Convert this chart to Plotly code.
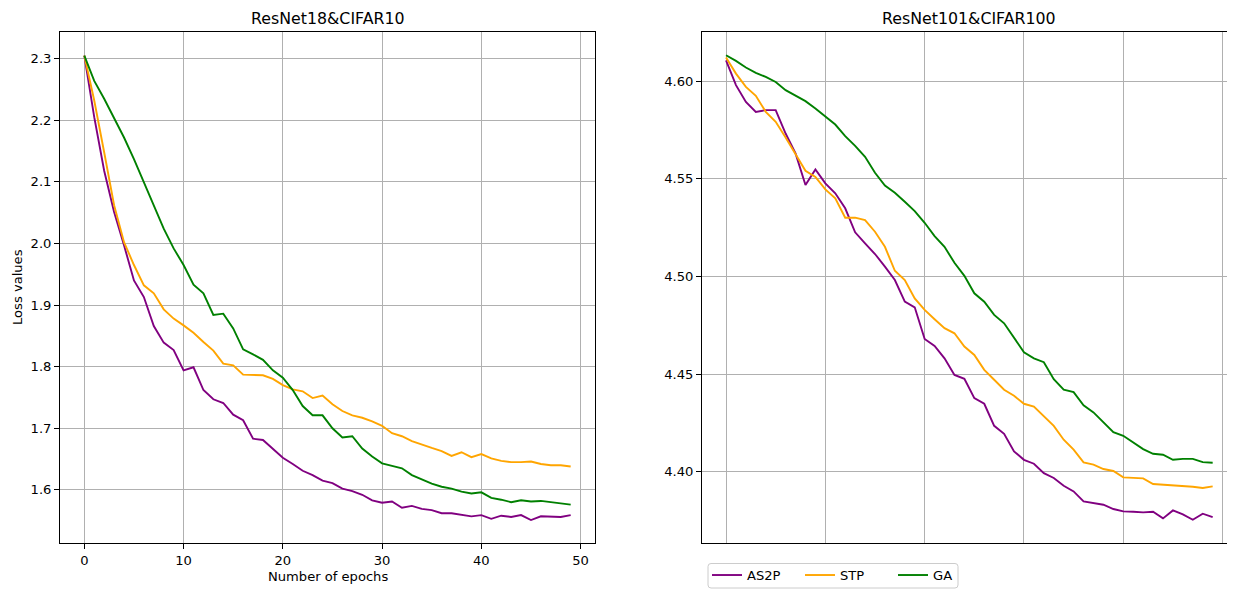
import plotly.graph_objects as go

epochs = list(range(50))

left_as2p = [2.305, 2.205, 2.118, 2.051, 1.997, 1.940, 1.913, 1.866, 1.839, 1.827,
             1.794, 1.799, 1.762, 1.747, 1.741, 1.722, 1.713, 1.683, 1.681, 1.666,
             1.652, 1.642, 1.631, 1.624, 1.615, 1.611, 1.602, 1.598, 1.592, 1.583,
             1.579, 1.581, 1.571, 1.574, 1.569, 1.567, 1.562, 1.562, 1.559, 1.557,
             1.559, 1.553, 1.558, 1.556, 1.559, 1.551, 1.557, 1.557, 1.556, 1.559]
left_stp = [2.305, 2.232, 2.148, 2.062, 2.002, 1.965, 1.932, 1.919, 1.893, 1.878,
            1.867, 1.855, 1.840, 1.826, 1.805, 1.802, 1.787, 1.786, 1.786, 1.780,
            1.770, 1.763, 1.760, 1.749, 1.753, 1.739, 1.728, 1.721, 1.717, 1.711,
            1.704, 1.692, 1.687, 1.679, 1.673, 1.668, 1.663, 1.655, 1.661, 1.653,
            1.658, 1.651, 1.647, 1.645, 1.645, 1.646, 1.642, 1.640, 1.640, 1.638]
left_ga = [2.305, 2.264, 2.235, 2.204, 2.172, 2.137, 2.100, 2.062, 2.024, 1.992,
           1.965, 1.933, 1.919, 1.884, 1.886, 1.862, 1.828, 1.820, 1.811, 1.794,
           1.782, 1.762, 1.736, 1.721, 1.721, 1.700, 1.685, 1.687, 1.667, 1.654,
           1.643, 1.639, 1.635, 1.624, 1.617, 1.610, 1.605, 1.602, 1.597, 1.594,
           1.596, 1.587, 1.584, 1.580, 1.583, 1.581, 1.582, 1.580, 1.578, 1.576]

right_as2p = [4.6107, 4.5980, 4.5894, 4.5843, 4.5852, 4.5852, 4.5732, 4.5630, 4.5468, 4.5548,
              4.5477, 4.5426, 4.5349, 4.5226, 4.5170, 4.5115, 4.5050, 4.4982, 4.4871, 4.4842,
              4.4680, 4.4644, 4.4581, 4.4496, 4.4476, 4.4377, 4.4348, 4.4235, 4.4194, 4.4104,
              4.4061, 4.4041, 4.3993, 4.3968, 4.3928, 4.3899, 4.3848, 4.3841, 4.3831, 4.3809,
              4.3797, 4.3795, 4.3792, 4.3795, 4.3761, 4.3802, 4.3782, 4.3754, 4.3785, 4.3768]
right_stp = [4.6121, 4.6039, 4.5971, 4.5925, 4.5843, 4.5792, 4.5712, 4.5630, 4.5541, 4.5510,
             4.5446, 4.5400, 4.5301, 4.5301, 4.5289, 4.5229, 4.5152, 4.5029, 4.4982, 4.4888,
             4.4829, 4.4781, 4.4735, 4.4709, 4.4641, 4.4598, 4.4522, 4.4471, 4.4420, 4.4389,
             4.4348, 4.4334, 4.4283, 4.4235, 4.4164, 4.4113, 4.4048, 4.4036, 4.4014, 4.4004,
             4.3971, 4.3968, 4.3966, 4.3937, 4.3934, 4.3930, 4.3927, 4.3923, 4.3917, 4.3925]
right_ga = [4.6133, 4.6104, 4.6070, 4.6043, 4.6022, 4.5996, 4.5954, 4.5925, 4.5898, 4.5860,
            4.5817, 4.5778, 4.5719, 4.5669, 4.5613, 4.5531, 4.5466, 4.5429, 4.5383, 4.5335,
            4.5275, 4.5207, 4.5152, 4.5070, 4.5003, 4.4914, 4.4871, 4.4803, 4.4760, 4.4684,
            4.4612, 4.4581, 4.4561, 4.4474, 4.4420, 4.4408, 4.4340, 4.4304, 4.4254, 4.4203,
            4.4184, 4.4148, 4.4116, 4.4092, 4.4087, 4.4061, 4.4066, 4.4066, 4.4049, 4.4046]

series_names = ["AS2P", "STP", "GA"]
series_colors = ["#800080", "#FFA500", "#008000"]

left_ticks = [1.6, 1.7, 1.8, 1.9, 2.0, 2.1, 2.2, 2.3]
right_ticks = [4.40, 4.45, 4.50, 4.55, 4.60]
x_ticks = [0, 10, 20, 30, 40, 50]

# the page body adds an 8px margin, so window coordinates are offset by OFF
OFF = 8
W, H = 1229, 589
FONT = "DejaVu Sans"

fig = go.Figure()
for name, col, yl, yr in zip(series_names, series_colors,
                             [left_as2p, left_stp, left_ga],
                             [right_as2p, right_stp, right_ga]):
    fig.add_trace(go.Scatter(x=epochs, y=yl, mode="lines", name=name,
                             line=dict(color=col, width=1.9), xaxis="x", yaxis="y",
                             showlegend=False))
    fig.add_trace(go.Scatter(x=epochs, y=yr, mode="lines", name=name,
                             line=dict(color=col, width=1.9), xaxis="x2", yaxis="y2",
                             showlegend=True))


def px_x(p):
    return (p - OFF) / W


def px_y(p):
    return 1 - (p - OFF) / H


top, bottom = 32, 543
grid = dict(showgrid=True, gridcolor="#b0b0b0", gridwidth=1, zeroline=False)
tickfont = dict(family=FONT, size=13.1, color="black")

# rounded legend frame (window pixel coordinates -> paper)
lx0, lx1, ly0, ly1, r = 708, 958, 563.5, 588, 3
fx = lambda p: px_x(p)
fy = lambda p: px_y(p)
frame_path = (
    f"M {fx(lx0 + r)} {fy(ly0)} L {fx(lx1 - r)} {fy(ly0)} "
    f"Q {fx(lx1)} {fy(ly0)} {fx(lx1)} {fy(ly0 + r)} "
    f"L {fx(lx1)} {fy(ly1 - r)} Q {fx(lx1)} {fy(ly1)} {fx(lx1 - r)} {fy(ly1)} "
    f"L {fx(lx0 + r)} {fy(ly1)} Q {fx(lx0)} {fy(ly1)} {fx(lx0)} {fy(ly1 - r)} "
    f"L {fx(lx0)} {fy(ly0 + r)} Q {fx(lx0)} {fy(ly0)} {fx(lx0 + r)} {fy(ly0)} Z"
)

fig.update_layout(
    width=W, height=H,
    margin=dict(l=0, r=0, t=0, b=0),
    paper_bgcolor="white", plot_bgcolor="white",
    font=dict(family=FONT, size=13.1, color="black"),
    xaxis=dict(domain=[px_x(60), px_x(595)], range=[-2.45, 51.45], anchor="y",
               tickvals=x_ticks, ticks="outside", ticklen=5, tickcolor="black",
               showline=True, linecolor="black", linewidth=1, mirror=True,
               tickfont=tickfont, **grid),
    yaxis=dict(domain=[px_y(bottom), px_y(top)], range=[1.5137, 2.3433], anchor="x",
               tickvals=left_ticks, ticktext=[f"{v:.1f}" for v in left_ticks],
               ticks="outside", ticklen=5, tickcolor="black",
               showline=True, linecolor="black", linewidth=1, mirror=True,
               tickfont=tickfont, **grid),
    xaxis2=dict(domain=[px_x(702), 1.0], range=[-2.42, 51.45], anchor="y2",
                tickvals=x_ticks, showticklabels=False, ticks="",
                showline=True, linecolor="black", linewidth=1, mirror=True,
                **grid),
    yaxis2=dict(domain=[px_y(bottom), px_y(top)], range=[4.3635, 4.6252], anchor="x2",
                tickvals=right_ticks, ticktext=[f"{v:.2f}" for v in right_ticks],
                ticks="outside", ticklen=5, tickcolor="black",
                showline=True, linecolor="black", linewidth=1, mirror=False,
                tickfont=tickfont, **grid),
    legend=dict(orientation="h", x=px_x(707), y=px_y(560), xanchor="left", yanchor="top",
                bgcolor="rgba(0,0,0,0)", borderwidth=0,
                entrywidth=48, entrywidthmode="pixels",
                font=dict(family=FONT, size=13.1, color="black")),
    shapes=[dict(type="path", path=frame_path, xref="paper", yref="paper",
                 line=dict(color="#cccccc", width=1), fillcolor="rgba(0,0,0,0)",
                 layer="below")],
    annotations=[
        dict(text="ResNet18&CIFAR10", x=px_x(327.5), y=px_y(18), xref="paper", yref="paper",
             xanchor="center", yanchor="middle", showarrow=False,
             font=dict(family=FONT, size=15.8, color="black")),
        dict(text="ResNet101&CIFAR100", x=px_x(969), y=px_y(18), xref="paper", yref="paper",
             xanchor="center", yanchor="middle", showarrow=False,
             font=dict(family=FONT, size=15.8, color="black")),
        dict(text="Number of epochs", x=px_x(327.5), y=px_y(576), xref="paper", yref="paper",
             xanchor="center", yanchor="middle", showarrow=False,
             font=dict(family=FONT, size=13.1, color="black")),
        dict(text="Loss values", x=px_x(18), y=px_y(287), xref="paper", yref="paper",
             xanchor="center", yanchor="middle", showarrow=False, textangle=-90,
             font=dict(family=FONT, size=13.1, color="black")),
    ],
)

fig.write_html("out.html")
